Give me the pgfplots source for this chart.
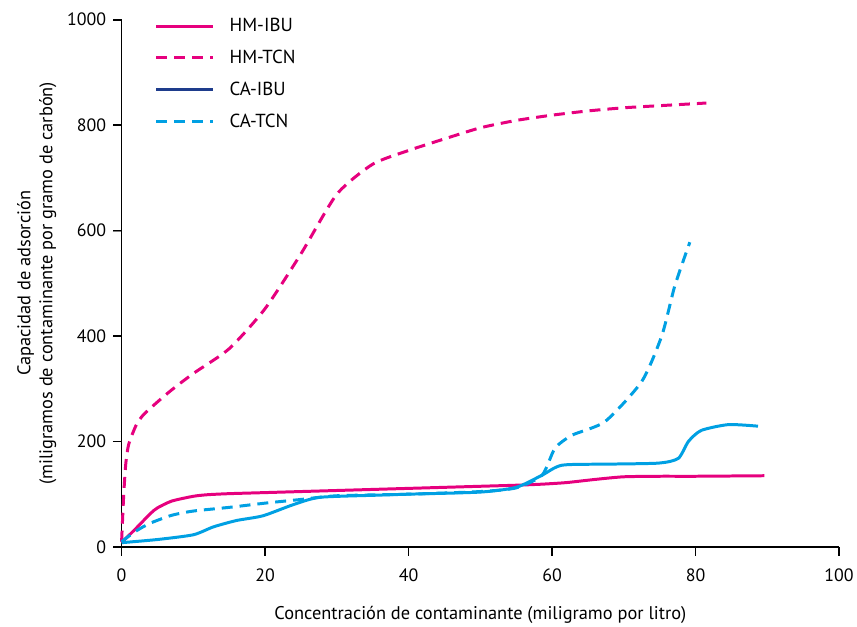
\documentclass[border={14bp 0bp 0bp 10bp}]{standalone}
\usepackage{fontspec}
\setmainfont{PT Sans}
\usepackage{pgfplots}
\pgfplotsset{compat=1.18}
\definecolor{hmpink}{RGB}{230,0,126}
\definecolor{calight}{RGB}{0,160,227}
\definecolor{cadark}{RGB}{30,60,140}
\begin{document}
\begin{tikzpicture}
\begin{axis}[
    width=720bp, height=529bp,
    scale only axis,
    axis lines=left,
    axis line style={line width=1.6bp, -},
    xmin=0, xmax=100, ymin=0, ymax=1000,
    xtick={0,20,...,100}, ytick={0,200,...,1000},
    minor tick num=0,
    tick align=outside,
    major tick length=9bp,
    ticklabel style={font=\fontsize{18}{20}\selectfont},
    xticklabel style={yshift=-9bp},
    yticklabel style={xshift=-3bp},
    /pgf/number format/assume math mode=true,
    /pgf/number format/1000 sep={},
    xlabel={Concentración de contaminante (miligramo por litro)},
    ylabel={Capacidad de adsorción\\(miligramos de contaminante por gramo de carbón)},
    label style={font=\fontsize{18.5}{22}\selectfont, align=center},
    xlabel style={yshift=-18bp},
    ylabel style={yshift=4bp},
    clip=false,
    legend style={at={(0.042,1.01)}, anchor=north west, draw=none, fill=none,
        font=\fontsize{19}{22}\selectfont, row sep=13bp},
    legend cell align=left,
    legend image code/.code={\draw[#1] (0bp,0bp) -- (57bp,0bp);},
]
\addlegendimage{hmpink, line width=3bp}
\addlegendentry{\hspace{13bp}HM-IBU}
\addlegendimage{hmpink, line width=3bp, dash pattern=on 11bp off 7bp}
\addlegendentry{\hspace{13bp}HM-TCN}
\addlegendimage{cadark, line width=3bp}
\addlegendentry{\hspace{13bp}CA-IBU}
\addlegendimage{calight, line width=3bp, dash pattern=on 11bp off 7bp}
\addlegendentry{\hspace{13bp}CA-TCN}

% tick marks, drawn as combs below / left of the axis lines
\addplot[black, line width=1.6bp, ycomb, forget plot] coordinates {
    (0,-17) (20,-17) (40,-17) (60,-17) (80,-17) (100,-17)
};
\addplot[black, line width=1.6bp, xcomb, forget plot] coordinates {
    (-1.25,0) (-1.25,200) (-1.25,400) (-1.25,600) (-1.25,800) (-1.25,1000)
};

% HM-IBU
\addplot[hmpink, line width=3bp, smooth, tension=0.4, forget plot] coordinates {
    (0,8) (2,35) (4,63) (5,74) (7,87) (10,96) (12,99) (15,101) (20,103)
    (30,107) (40,111) (50,115) (55,117) (58.6,119) (62,122) (66,128) (70,133)
    (75,134) (80,134) (89.6,135)
};
% HM-TCN
\addplot[hmpink, line width=3bp, dash pattern=on 11bp off 7bp, smooth, tension=0.4, forget plot] coordinates {
    (0,10) (0.3,100) (0.6,160) (1,195) (2,230) (3,250) (5,275) (7,298)
    (10,329) (15,376) (20,452) (25,556) (30,669) (35,726) (40,752)
    (45,774) (50,795) (55,809) (60,819) (65,827) (70,833) (75,837) (81.5,842)
};
% CA-IBU
\addplot[calight, line width=3bp, smooth, tension=0.4, forget plot] coordinates {
    (0,8) (5,14) (10,23) (12.8,38) (16,50) (19.7,59) (23.9,80) (27.6,94)
    (35.4,98) (40,100) (50,104) (55,113) (58.6,136) (61.4,155) (67.9,157)
    (74.9,159) (77.6,168) (79,200) (80.8,221) (84.6,232) (88.7,229)
};
% CA-TCN
\addplot[calight, line width=3bp, dash pattern=on 11bp off 7bp, smooth, tension=0.4, forget plot] coordinates {
    (0,10) (2,30) (4,45) (7,60) (10,68) (15,75) (20,83) (25,90) (30,97)
    (40,100) (50,105) (55,112) (58.6,136) (60.4,187) (62.8,212) (67.4,238)
    (72.5,314) (75.3,401) (77.1,495) (79.2,578)
};
\end{axis}
\end{tikzpicture}
\end{document}
